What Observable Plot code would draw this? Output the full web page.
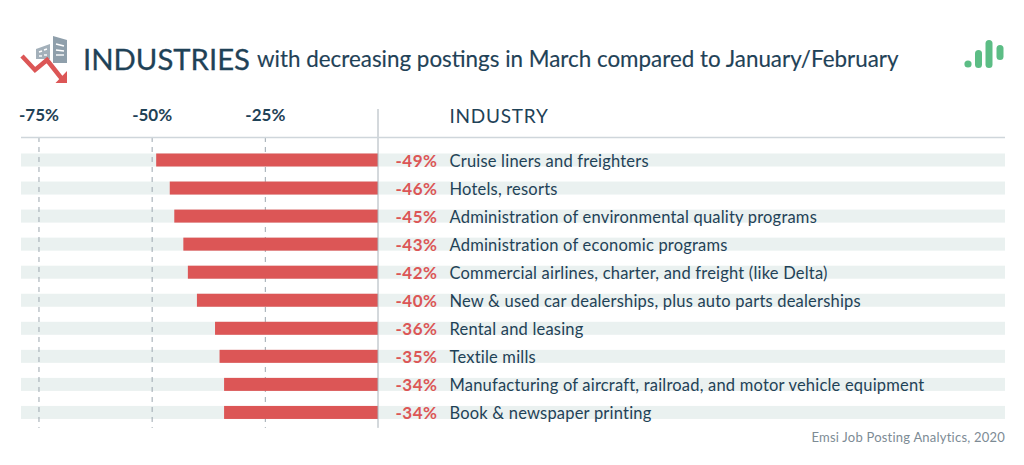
<!DOCTYPE html>
<html>
<head>
<meta charset="utf-8">
<script src="https://cdn.jsdelivr.net/npm/d3@7"></script>
<script src="https://cdn.jsdelivr.net/npm/@observablehq/plot@0.6"></script>
<style>
html,body{margin:0;padding:0;background:#fff;width:1024px;height:465px;overflow:hidden}
body{font-family:Lato,sans-serif;color:#1f4257}
#head{position:relative;height:100px;width:1024px}
#head svg{position:absolute;left:0;top:0}
#t1{position:absolute;left:83px;top:40px;font-size:29.3px;line-height:38px;white-space:nowrap;-webkit-text-stroke:.3px #1f4257}
#t2{position:absolute;left:257px;top:44px;font-size:22.4px;line-height:30px;white-space:nowrap;-webkit-text-stroke:.15px #1f4257}
#chart{height:330px;width:1024px}
#chart svg{display:block}
#cap{position:absolute;right:19px;top:429px;font-size:13px;line-height:16px;color:#7d8b95;letter-spacing:.22px}
</style>
</head>
<body>
<div id="head">
<svg width="1024" height="100">
<polygon points="53,36 67,40 67,63 53,63" fill="#8f9fab"/>
<polygon points="36,49 50,44 50,59 36,59" fill="#a3b0ba"/>
<g stroke="#fff" stroke-width="1.4">
<line x1="56" y1="44" x2="64" y2="46"/><line x1="56" y1="50" x2="64" y2="51"/><line x1="56" y1="55" x2="64" y2="55"/>
<line x1="39" y1="52" x2="42" y2="51"/><line x1="44" y1="50" x2="47" y2="49"/><line x1="39" y1="56" x2="42" y2="56"/><line x1="44" y1="55" x2="47" y2="55"/>
</g>
<polyline points="22,56 35,70 47,60 62,79" fill="none" stroke="#dc5656" stroke-width="4.5"/>
<polygon points="55.5,83 67,83 67,71" fill="#dc5656"/>
<circle cx="968" cy="64" r="3.6" fill="#5cbd85"/>
<rect x="975" y="50" width="7" height="18" rx="3.5" fill="#5cbd85"/>
<rect x="985.5" y="40" width="7" height="28" rx="3.5" fill="#5cbd85"/>
<rect x="996.5" y="45" width="7" height="15" rx="3.5" fill="#5cbd85"/>
</svg>
<div id="t1">INDUSTRIES</div>
<div id="t2">with decreasing postings in March compared to January/February</div>
</div>
<div id="chart"></div>
<div id="cap">Emsi Job Posting Analytics, 2020</div>
<script>
const categories = [
  "Cruise liners and freighters",
  "Hotels, resorts",
  "Administration of environmental quality programs",
  "Administration of economic programs",
  "Commercial airlines, charter, and freight (like Delta)",
  "New & used car dealerships, plus auto parts dealerships",
  "Rental and leasing",
  "Textile mills",
  "Manufacturing of aircraft, railroad, and motor vehicle equipment",
  "Book & newspaper printing"
];
const values = [-49, -46, -45, -43, -42, -40, -36, -35, -34, -34];
const gridTicks = [-75, -50, -25];
const columnHeader = "INDUSTRY";

const rows = categories.map((name, i) => ({name, value: values[i], row: i}));
const xDomain = [-78.86, 138.5];
const half = 0.232;
const ink = "#1f4257", red = "#dc5656";
const fmt = d => `${d}%`;

const chart = Plot.plot({
  width: 1024,
  height: 330,
  marginTop: 25, marginLeft: 0, marginRight: 0, marginBottom: 0,
  x: {domain: xDomain, range: [21, 1005]},
  y: {domain: [-2.139, 9.626], range: [0, 330], axis: null},
  style: {fontFamily: "Lato, sans-serif", background: "transparent"},
  marks: [
    Plot.rect(rows, {x1: () => xDomain[0], x2: () => xDomain[1], y1: d => d.row - half, y2: d => d.row + half, fill: "#eaf1f0"}),
    Plot.ruleX(gridTicks, {y1: -0.82, y2: 9.55, stroke: "#9ba6ae", strokeDasharray: "5 5", strokeWidth: 1}),
    Plot.rect(rows, {x1: "value", x2: () => 0, y1: d => d.row - half, y2: d => d.row + half, fill: red}),
    Plot.ruleX([0], {y1: -1.818, y2: 9.55, stroke: "#a9b2b9", strokeWidth: 1, dx: -0.5}),
    Plot.ruleY([-0.82], {x1: xDomain[0], x2: xDomain[1], stroke: "#cfd6db", strokeWidth: 1.5}),
    Plot.axisX({anchor: "top", ticks: gridTicks, tickFormat: fmt, tickSize: 0, tickPadding: 5, label: null,
      fontSize: 17, fill: ink, fontWeight: 700, lineAnchor: "bottom"}),
    Plot.text(rows, {x: () => 0, y: "row", text: d => fmt(d.value), dx: 59, dy: 1, textAnchor: "end", fill: red, fontSize: 17, fontWeight: 700}),
    Plot.text(rows, {x: () => 0, y: "row", text: "name", dx: 71, dy: 1, textAnchor: "start", fill: ink, fontSize: 16.5}),
    Plot.text([columnHeader], {x: () => 0, y: () => -1.55, text: d => d, dx: 71, textAnchor: "start", fill: ink, fontSize: 19})
  ]
});
const textGroups = chart.querySelectorAll('g[aria-label="text"]');
[".5px", ".2px", ".75px"].forEach((s, i) => { if (textGroups[i]) textGroups[i].style.letterSpacing = s; });
document.getElementById("chart").appendChild(chart);
</script>
</body>
</html>
